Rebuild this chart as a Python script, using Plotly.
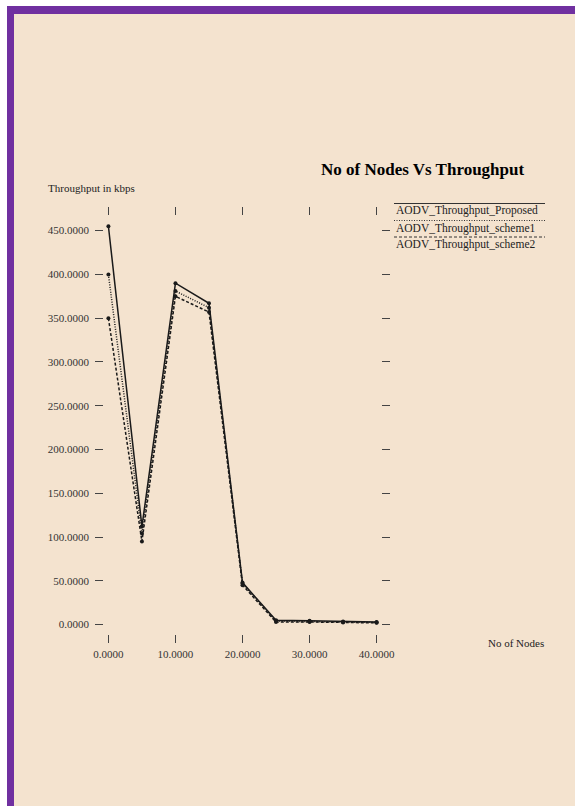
import plotly.graph_objects as go

# ---- data ----
nodes = [0, 5, 10, 15, 20, 25, 30, 35, 40]
series_names = ["AODV_Throughput_Proposed", "AODV_Throughput_scheme1", "AODV_Throughput_scheme2"]
proposed = [455, 112, 390, 367, 48, 5, 4.5, 3.5, 3]
scheme1 = [400, 104, 381, 362, 47, 4, 3.5, 3, 2.5]
scheme2 = [350, 95, 375, 357, 45, 3, 3, 2.5, 2]
series_values = [proposed, scheme1, scheme2]
series_dash = ["solid", "1px,1.5px", "3px,2px"]
y_ticks = [0, 50, 100, 150, 200, 250, 300, 350, 400, 450]
x_ticks = [0, 10, 20, 30, 40]

title_text = "No of Nodes Vs Throughput"
y_title = "Throughput in kbps"
x_title = "No of Nodes"

# ---- layout geometry (pixels) ----
W, H = 575, 806
L, R, T, B = 95, 390, 207, 643
BG = "#F4E3CF"
PURPLE = "#7030A0"
SERIF = "Liberation Serif, Times New Roman, serif"


def px(x):
    return (x - L) / (R - L)


def py(y):
    return (B - y) / (B - T)


fig = go.Figure()
for name, vals, dash in zip(series_names, series_values, series_dash):
    fig.add_trace(go.Scatter(
        x=nodes, y=vals, name=name, mode="lines+markers",
        line=dict(color="#1a1a1a", width=1.5, dash=dash),
        marker=dict(color="#1a1a1a", size=4),
        showlegend=False,
    ))

shapes = [
    # page white margins
    dict(type="rect", xref="paper", yref="paper", x0=px(-5), x1=px(W + 5), y0=py(6), y1=py(-5),
         fillcolor="white", line=dict(width=0), layer="below"),
    dict(type="rect", xref="paper", yref="paper", x0=px(-5), x1=px(7), y0=py(H + 5), y1=py(-5),
         fillcolor="white", line=dict(width=0), layer="below"),
    # purple border top & left
    dict(type="rect", xref="paper", yref="paper", x0=px(7), x1=px(W + 5), y0=py(14), y1=py(6),
         fillcolor=PURPLE, line=dict(width=0), layer="below"),
    dict(type="rect", xref="paper", yref="paper", x0=px(7), x1=px(14), y0=py(H + 5), y1=py(6),
         fillcolor=PURPLE, line=dict(width=0), layer="below"),
]

annotations = [
    dict(text="<b>" + title_text + "</b>", xref="paper", yref="paper", x=px(422), y=py(170),
         xanchor="center", yanchor="middle", showarrow=False,
         font=dict(family=SERIF, size=17, color="black")),
    dict(text=y_title, xref="paper", yref="paper", x=px(46), y=py(188),
         xanchor="left", yanchor="middle", showarrow=False,
         font=dict(family=SERIF, size=11, color="#222")),
    dict(text=x_title, xref="paper", yref="paper", x=px(486), y=py(643),
         xanchor="left", yanchor="middle", showarrow=False,
         font=dict(family=SERIF, size=11, color="#222")),
]

# custom legend: line above each label
leg_line_y = [203.5, 220.5, 237]
leg_text_y = [211, 228, 244.5]
for name, dash, ly, ty in zip(series_names, series_dash, leg_line_y, leg_text_y):
    shapes.append(dict(type="line", xref="paper", yref="paper", x0=px(394), x1=px(545),
                       y0=py(ly), y1=py(ly), line=dict(color="#333", width=1, dash=dash)))
    annotations.append(dict(text=name, xref="paper", yref="paper", x=px(394), y=py(ty),
                            xanchor="left", yanchor="middle", showarrow=False,
                            font=dict(family=SERIF, size=11.5, color="#222")))

axis_common = dict(showgrid=False, zeroline=False, showline=False, ticks="inside", ticklen=8,
                   tickwidth=1, tickcolor="#444", mirror="ticks",
                   tickfont=dict(family=SERIF, size=11, color="#333"), tickformat=".4f")

fig.update_layout(
    width=W, height=H,
    margin=dict(l=L, r=W - R, t=T, b=H - B, pad=0),
    paper_bgcolor=BG, plot_bgcolor=BG,
    xaxis=dict(range=[-2, 42], tickvals=x_ticks, ticklabelstandoff=3, **axis_common),
    yaxis=dict(range=[-21, 477], tickvals=y_ticks, ticklabelstandoff=5, **axis_common),
    shapes=shapes, annotations=annotations,
    showlegend=False,
)

fig.write_html("out.html", config={"displayModeBar": False},
               post_script="document.body.style.margin='0';document.body.style.padding='0';")
